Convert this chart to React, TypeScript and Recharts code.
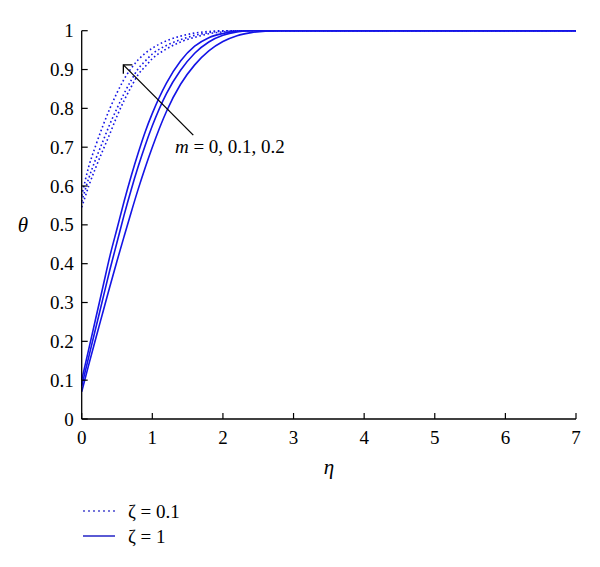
import React from 'react';
import { LineChart, Line, XAxis, YAxis, ReferenceLine, ReferenceDot, Legend } from 'recharts';

const eta = [0, 0.1, 0.2, 0.3, 0.4, 0.5, 0.6, 0.7, 0.8, 0.9, 1.0, 1.2, 1.4, 1.6, 1.8, 2.0, 2.2, 2.4, 2.6, 2.8, 3, 4, 5, 6, 7];

// zeta = 0.1 (dotted), m = 0.2, 0.1, 0
const dotM02 = [0.575, 0.65, 0.705, 0.755, 0.8, 0.84, 0.875, 0.903, 0.925, 0.942, 0.955, 0.974, 0.986, 0.994, 0.998, 1, 1, 1, 1, 1, 1, 1, 1, 1, 1];
const dotM01 = [0.56, 0.62, 0.67, 0.715, 0.76, 0.8, 0.838, 0.872, 0.902, 0.922, 0.94, 0.962, 0.977, 0.988, 0.995, 0.999, 1, 1, 1, 1, 1, 1, 1, 1, 1];
const dotM00 = [0.545, 0.6, 0.648, 0.692, 0.735, 0.78, 0.82, 0.855, 0.887, 0.908, 0.928, 0.953, 0.971, 0.983, 0.992, 0.997, 1, 1, 1, 1, 1, 1, 1, 1, 1];

// zeta = 1 (solid), m = 0.2, 0.1, 0
const solM02 = [0.1, 0.18, 0.26, 0.34, 0.42, 0.49, 0.56, 0.625, 0.685, 0.74, 0.787, 0.865, 0.922, 0.96, 0.982, 0.993, 0.999, 1, 1, 1, 1, 1, 1, 1, 1];
const solM01 = [0.085, 0.16, 0.235, 0.31, 0.385, 0.455, 0.525, 0.59, 0.65, 0.705, 0.755, 0.838, 0.898, 0.942, 0.971, 0.988, 0.997, 1, 1, 1, 1, 1, 1, 1, 1];
const solM00 = [0.07, 0.14, 0.208, 0.275, 0.342, 0.407, 0.47, 0.532, 0.592, 0.648, 0.7, 0.792, 0.862, 0.912, 0.948, 0.972, 0.987, 0.995, 0.999, 1, 1, 1, 1, 1, 1];

const xTicks = [0, 1, 2, 3, 4, 5, 6, 7];
const xTickLabels = ['0', '1', '2', '3', '4', '5', '6', '7'];
const yTicks = [0, 0.1, 0.2, 0.3, 0.4, 0.5, 0.6, 0.7, 0.8, 0.9, 1];
const yTickLabels = ['0', '0.1', '0.2', '0.3', '0.4', '0.5', '0.6', '0.7', '0.8', '0.9', '1'];

const legendLabels = ['ζ = 0.1', 'ζ = 1'];
const annotationText = ['m', ' = 0, 0.1, 0.2'];
const arrowTail = { x: 1.58, y: 0.731 };
const arrowHead = { x: 0.59, y: 0.912 };
const annotationPos = { x: 1.32, y: 0.703 };

const data = eta.map((e, i) => ({
  eta: e,
  d2: dotM02[i],
  d1: dotM01[i],
  d0: dotM00[i],
  s2: solM02[i],
  s1: solM01[i],
  s0: solM00[i],
}));

const FONT = '"Liberation Serif", "DejaVu Serif", serif';
const BLUE = '#1414e6';

const XTick = (props: any) => {
  const { x, y, payload } = props;
  const idx = xTicks.indexOf(payload.value);
  return (
    <g>
      <line x1={x} y1={y} x2={x} y2={y - 6} stroke="#000" strokeWidth={1.2} />
      <text x={x} y={y + 18} textAnchor="middle" dominantBaseline="central" fontFamily={FONT} fontSize={19} fill="#000">
        {xTickLabels[idx]}
      </text>
    </g>
  );
};

const YTick = (props: any) => {
  const { x, y, payload } = props;
  const idx = yTicks.findIndex((v) => Math.abs(v - payload.value) < 1e-9);
  return (
    <g>
      <line x1={x} y1={y} x2={x + 6} y2={y} stroke="#000" strokeWidth={1.2} />
      <text x={x - 8} y={y} textAnchor="end" dominantBaseline="central" fontFamily={FONT} fontSize={19} fill="#000">
        {yTickLabels[idx]}
      </text>
    </g>
  );
};

const arrowShape = (p: any) => {
  const { x1, y1, x2, y2 } = p;
  const headFirst = x1 < x2;
  const hx = headFirst ? x1 : x2;
  const hy = headFirst ? y1 : y2;
  const tx = headFirst ? x2 : x1;
  const ty = headFirst ? y2 : y1;
  const ang = Math.atan2(ty - hy, tx - hx);
  const L = 9;
  const a = Math.PI / 4;
  const ax = hx + L * Math.cos(ang - a);
  const ay = hy + L * Math.sin(ang - a);
  const bx = hx + L * Math.cos(ang + a);
  const by = hy + L * Math.sin(ang + a);
  return (
    <g>
      <line x1={tx} y1={ty} x2={hx} y2={hy} stroke="#000" strokeWidth={1.3} />
      <polyline points={`${ax},${ay} ${hx},${hy} ${bx},${by}`} fill="none" stroke="#000" strokeWidth={1.3} />
    </g>
  );
};

const annotationShape = (p: any) => {
  const { cx, cy } = p;
  return (
    <text x={cx} y={cy} dominantBaseline="central" fontFamily={FONT} fontSize={19} fill="#000">
      <tspan fontStyle="italic">{annotationText[0]}</tspan>
      <tspan>{annotationText[1]}</tspan>
    </text>
  );
};

const LegendContent = () => (
  <svg width={200} height={56} style={{ display: 'block' }}>
    <line x1={1} y1={13} x2={33} y2={13} stroke="#4848d0" strokeWidth={1.5} strokeDasharray="2 3" />
    <text x={46} y={13} dominantBaseline="central" fontFamily={FONT} fontSize={19} fill="#000">
      {legendLabels[0]}
    </text>
    <line x1={1} y1={38} x2={33} y2={38} stroke="#4848d0" strokeWidth={1.8} />
    <text x={46} y={38} dominantBaseline="central" fontFamily={FONT} fontSize={19} fill="#000">
      {legendLabels[1]}
    </text>
  </svg>
);

const XLabel = (props: any) => {
  const vb = props.viewBox;
  return (
    <text x={vb.x + vb.width / 2} y={vb.y + 48} textAnchor="middle" dominantBaseline="central" fontFamily={FONT} fontStyle="italic" fontSize={21} fill="#000">
      η
    </text>
  );
};

const YLabel = (props: any) => {
  const vb = props.viewBox;
  return (
    <text x={vb.x + vb.width - 58.7} y={vb.y + vb.height / 2} textAnchor="middle" dominantBaseline="central" fontFamily={FONT} fontStyle="italic" fontSize={21} fill="#000">
      θ
    </text>
  );
};

export default function App() {
  return (
    <div style={{ width: 592, height: 551, position: 'relative' }}>
      <LineChart width={592} height={551} data={data} margin={{ top: 22.7, right: 24, left: 13.7, bottom: 110 }}>
        <XAxis
          dataKey="eta"
          type="number"
          domain={[0, 7]}
          ticks={xTicks}
          interval={0}
          height={30}
          tickSize={0}
          tickMargin={0}
          tickLine={false}
          axisLine={{ stroke: '#000', strokeWidth: 1.3 }}
          tick={<XTick />}
          label={<XLabel />}
        />
        <YAxis
          type="number"
          domain={[0, 1]}
          ticks={yTicks}
          interval={0}
          width={60}
          tickSize={0}
          tickMargin={0}
          tickLine={false}
          axisLine={{ stroke: '#000', strokeWidth: 1.3 }}
          tick={<YTick />}
          label={<YLabel />}
        />
        <Line type="monotone" dataKey="d2" stroke={BLUE} strokeWidth={1.6} strokeDasharray="1.6 2.6" dot={false} isAnimationActive={false} />
        <Line type="monotone" dataKey="d1" stroke={BLUE} strokeWidth={1.6} strokeDasharray="1.6 2.6" dot={false} isAnimationActive={false} />
        <Line type="monotone" dataKey="d0" stroke={BLUE} strokeWidth={1.6} strokeDasharray="1.6 2.6" dot={false} isAnimationActive={false} />
        <Line type="monotone" dataKey="s2" stroke={BLUE} strokeWidth={1.6} dot={false} isAnimationActive={false} />
        <Line type="monotone" dataKey="s1" stroke={BLUE} strokeWidth={1.6} dot={false} isAnimationActive={false} />
        <Line type="monotone" dataKey="s0" stroke={BLUE} strokeWidth={1.6} dot={false} isAnimationActive={false} />
        <ReferenceLine segment={[arrowTail, arrowHead]} shape={arrowShape} />
        <ReferenceDot x={annotationPos.x} y={annotationPos.y} r={0} shape={annotationShape} />
        <Legend
          layout="vertical"
          verticalAlign="middle"
          align="center"
          content={<LegendContent />}
          wrapperStyle={{ position: 'absolute', left: 74, top: 490, width: 200, height: 56 }}
        />
      </LineChart>
    </div>
  );
}
